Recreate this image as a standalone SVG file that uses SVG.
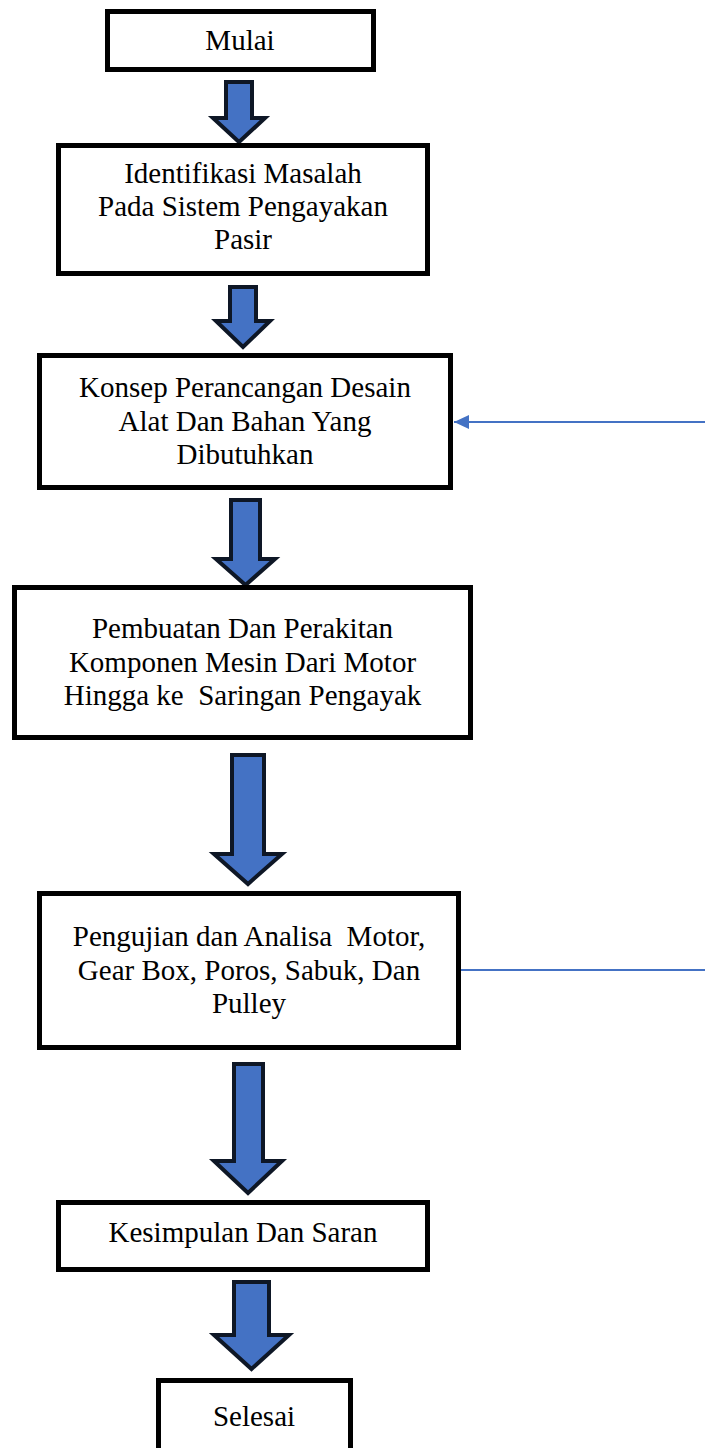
<svg xmlns="http://www.w3.org/2000/svg" width="705" height="1448" viewBox="0 0 705 1448">
<style>
.box{fill:#fff;stroke:#000;stroke-width:5}
.t{font-family:'Liberation Serif',Tinos,'Times New Roman',Times,'DejaVu Serif','Noto Serif',serif;font-size:29px;fill:#000;text-anchor:middle}
.arr{fill:#4472C4;stroke:#0E1726;stroke-width:4;stroke-linejoin:miter}
.link{stroke:#4472C4;stroke-width:2;fill:none}
</style>
<defs>
<marker id="ah" markerWidth="16" markerHeight="14" refX="15" refY="7" orient="auto" markerUnits="userSpaceOnUse">
<path d="M0,0 L15,7 L0,14 Z" fill="#4472C4"/>
</marker>
</defs>
<rect width="705" height="1448" fill="#fff"/>
<g id="connectors">
<path class="arr" d="M226,82 H252 V118 H265 L239,142 L213,118 H226 Z"/>
<path class="arr" d="M230,287 H256 V321 H270 L243,347 L216,321 H230 Z"/>
<path class="arr" d="M231,500 H260 V559 H275 L245.5,585 L216,559 H231 Z"/>
<path class="arr" d="M232,755 H264 V854 H282 L248,884 L214,854 H232 Z"/>
<path class="arr" d="M234,1064 H263 V1161 H282 L248,1193 L214,1161 H234 Z"/>
<path class="arr" d="M234,1282 H269 V1335 H289 L251.5,1369 L214,1335 H234 Z"/>
<line class="link" x1="705" y1="422" x2="454" y2="422" marker-end="url(#ah)"/>
<line class="link" x1="461" y1="970" x2="705" y2="970"/>
</g>
<g id="n1">
<rect class="box" x="107.5" y="11.5" width="266" height="58"/>
<text class="t" font-family="Liberation Serif, serif" x="240" y="50">Mulai</text>
</g>
<g id="n2">
<rect class="box" x="58.5" y="145.5" width="369" height="128"/>
<text class="t" x="243" y="183">Identifikasi Masalah</text>
<text class="t" x="243" y="216">Pada Sistem Pengayakan</text>
<text class="t" x="243" y="249">Pasir</text>
</g>
<g id="n3">
<rect class="box" x="39.5" y="355.5" width="411" height="132"/>
<text class="t" x="245" y="397">Konsep Perancangan Desain</text>
<text class="t" x="245" y="431">Alat Dan Bahan Yang</text>
<text class="t" x="245" y="464">Dibutuhkan</text>
</g>
<g id="n4">
<rect class="box" x="14.5" y="587.5" width="456" height="150"/>
<text class="t" x="242.5" y="638">Pembuatan Dan Perakitan</text>
<text class="t" x="242.5" y="672">Komponen Mesin Dari Motor</text>
<text class="t" x="242.5" y="705" xml:space="preserve">Hingga ke  Saringan Pengayak</text>
</g>
<g id="n5">
<rect class="box" x="39.5" y="893.5" width="419" height="154"/>
<text class="t" x="249" y="946" xml:space="preserve">Pengujian dan Analisa  Motor,</text>
<text class="t" x="249" y="980">Gear Box, Poros, Sabuk, Dan</text>
<text class="t" x="249" y="1013">Pulley</text>
</g>
<g id="n6">
<rect class="box" x="58.5" y="1202.5" width="369" height="67"/>
<text class="t" x="243" y="1242">Kesimpulan Dan Saran</text>
</g>
<g id="n7">
<rect class="box" x="158.5" y="1380.5" width="192" height="75"/>
<text class="t" x="254" y="1426">Selesai</text>
</g>
</svg>
